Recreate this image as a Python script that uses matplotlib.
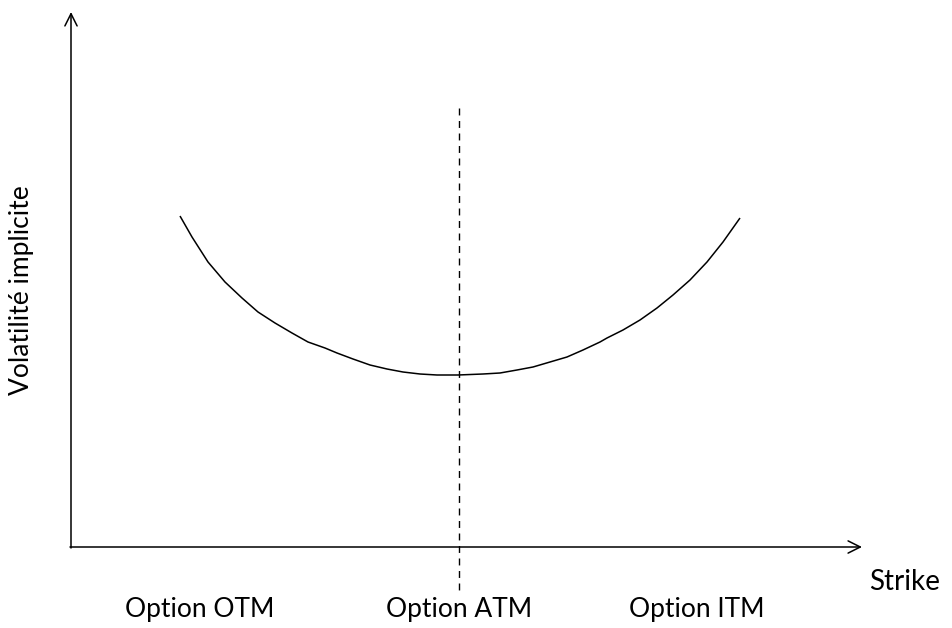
import matplotlib.pyplot as plt

# Smile curve (strike units, vol units from the origin)
strike = [109, 121, 137, 154, 171, 187, 204, 221, 237, 254, 266, 282, 299, 316,
          332, 349, 366, 387, 412, 429, 446, 462, 479, 496, 512, 529, 536, 552,
          569, 586, 602, 619, 636, 652, 669]
vol = [331, 310, 285, 265, 249, 235, 224, 214, 205, 199, 194, 188, 182, 178,
       175, 173, 172, 172, 173, 174, 177, 180, 185, 190, 197, 205, 209, 217,
       227, 239, 252, 267, 285, 305, 329]

atm_strike = 388
categories = ['Option OTM', 'Option ATM', 'Option ITM']
category_x = [129, 388, 626]

plt.rcParams['font.family'] = ['Lato', 'DejaVu Sans']

fig = plt.figure(figsize=(9.52, 6.28), dpi=100)
ax = fig.add_axes([0, 0, 1, 1])
ax.set_xlim(-71, 881)
ax.set_ylim(-81, 547)
ax.axis('off')

# axes with open arrow heads
ax.annotate('', xy=(791, 0), xytext=(-1, 0),
            arrowprops=dict(arrowstyle='->', lw=1.1, color='black',
                            mutation_scale=22, shrinkA=0, shrinkB=0))
ax.annotate('', xy=(0, 535), xytext=(0, -1),
            arrowprops=dict(arrowstyle='->', lw=1.1, color='black',
                            mutation_scale=22, shrinkA=0, shrinkB=0))

# smile
ax.plot(strike, vol, color='black', lw=1.1, solid_capstyle='butt',
        solid_joinstyle='round')

# ATM dashed line
ax.plot([atm_strike, atm_strike], [439, -43], color='black', lw=1.0,
        linestyle=(0, (5, 4)))

# labels
for name, x in zip(categories, category_x):
    ax.text(x, -63, name, ha='center', va='center', fontsize=19)
ax.text(834, -35, 'Strike', ha='center', va='center', fontsize=20)
ax.text(-49, 257, 'Volatilité implicite', ha='center', va='center',
        rotation=90, fontsize=19)

plt.savefig('out.png', dpi=100)
